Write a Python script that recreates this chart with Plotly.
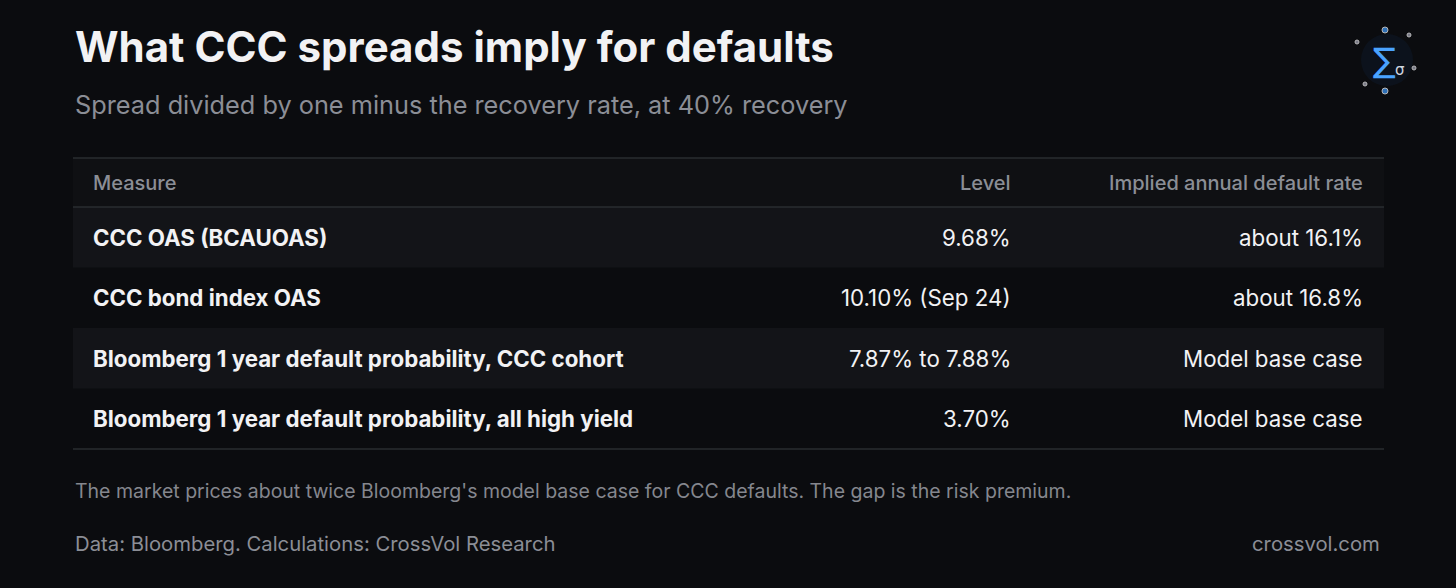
import plotly.graph_objects as go

title = "What CCC spreads imply for defaults"
subtitle = "Spread divided by one minus the recovery rate, at 40% recovery"
headers = ["Measure", "Level", "Implied annual default rate"]
measures = ["CCC OAS (BCAUOAS)", "CCC bond index OAS",
            "Bloomberg 1 year default probability, CCC cohort",
            "Bloomberg 1 year default probability, all high yield"]
levels = ["9.68%", "10.10% (Sep 24)", "7.87% to 7.88%", "3.70%"]
implied = ["about 16.1%", "about 16.8%", "Model base case", "Model base case"]
note = "The market prices about twice Bloomberg's model base case for CCC defaults. The gap is the risk premium."
source = "Data: Bloomberg. Calculations: CrossVol Research"
site = "crossvol.com"

W, H = 1456, 588
BG = "#0b0c0f"
FONT = "Inter"
fig = go.Figure()
shapes, ann = [], []

L, R = 73, 1384
top, hdr_h, row_h = 158, 49, 60.5
col_x = [91, 1013, 1365]
col_anchor = ["left", "right", "right"]

shapes.append(dict(type="rect", x0=L, x1=R, y0=top, y1=top + hdr_h, fillcolor="#0f1013", line_width=0, layer="below"))
for i, h in enumerate(headers):
    ann.append(dict(x=col_x[i], y=top + hdr_h / 2, text=h, xanchor=col_anchor[i], yanchor="middle", showarrow=False,
                    font=dict(family=FONT, size=20, color="#8b8e96", weight=500)))
y0 = top + hdr_h
for r in range(len(measures)):
    ya, yb = y0 + r * row_h, y0 + (r + 1) * row_h
    if r % 2 == 0:
        shapes.append(dict(type="rect", x0=L, x1=R, y0=ya, y1=yb, fillcolor="#131418", line_width=0, layer="below"))
    vals = [measures[r], levels[r], implied[r]]
    for i, v in enumerate(vals):
        ann.append(dict(x=col_x[i], y=(ya + yb) / 2, text=("<b>%s</b>" % v) if i == 0 else v,
                        xanchor=col_anchor[i], yanchor="middle", showarrow=False,
                        font=dict(family=FONT, size=22.3, color="#f2f2f4")))
bottom = y0 + len(measures) * row_h
for yy in [top, top + hdr_h, bottom]:
    shapes.append(dict(type="line", x0=L, x1=R, y0=yy, y1=yy, line=dict(color="#2a2c31", width=1.3)))

ann.append(dict(x=L, y=46, text="<b>%s</b>" % title, xanchor="left", yanchor="middle", showarrow=False,
                font=dict(family=FONT, size=42, color="#f2f2f4")))
ann.append(dict(x=L, y=104, text=subtitle, xanchor="left", yanchor="middle", showarrow=False,
                font=dict(family=FONT, size=25.3, color="#8b8e96")))
ann.append(dict(x=L, y=491, text=note, xanchor="left", yanchor="middle", showarrow=False,
                font=dict(family=FONT, size=19.5, color="#85878e")))
ann.append(dict(x=L, y=543, text=source, xanchor="left", yanchor="middle", showarrow=False,
                font=dict(family=FONT, size=20.3, color="#8b8e96")))
ann.append(dict(x=1382, y=543, text=site, xanchor="right", yanchor="middle", showarrow=False,
                font=dict(family=FONT, size=20.3, color="#8b8e96")))

# logo
cx, cy = 1387, 60
shapes.append(dict(type="circle", x0=cx - 26, x1=cx + 26, y0=cy - 26, y1=cy + 26, fillcolor="#0e1724", line_width=0, layer="below", opacity=0.6))
ann.append(dict(x=cx - 3, y=cy, text="∑", showarrow=False, font=dict(family="DejaVu Sans", size=34, color="#4aa3ff")))
ann.append(dict(x=cx + 13, y=cy + 10, text="σ", showarrow=False, font=dict(family="DejaVu Sans", size=15, color="#cfd6e0")))
fig.add_trace(go.Scatter(x=[cx - 2, cx - 2, cx - 30, cx + 27, cx + 22, cx - 22], y=[cy - 30, cy + 31, cy - 18, cy + 8, cy - 25, cy + 24],
                         mode="markers", marker=dict(size=[6, 6, 4, 4, 4, 4], color=["#3d9bff", "#3d9bff", "#aab", "#aab", "#aab", "#aab"]),
                         hoverinfo="skip", showlegend=False))

fig.update_layout(width=W, height=H, margin=dict(l=0, r=0, t=0, b=0), paper_bgcolor=BG, plot_bgcolor=BG,
                  xaxis=dict(range=[0, W], visible=False, fixedrange=True),
                  yaxis=dict(range=[H, 0], visible=False, fixedrange=True),
                  shapes=shapes, annotations=ann, showlegend=False)
fig.write_html("out.html", config={"displayModeBar": False},
               post_script="document.body.style.margin='0';document.body.style.background='#0b0c0f';")
